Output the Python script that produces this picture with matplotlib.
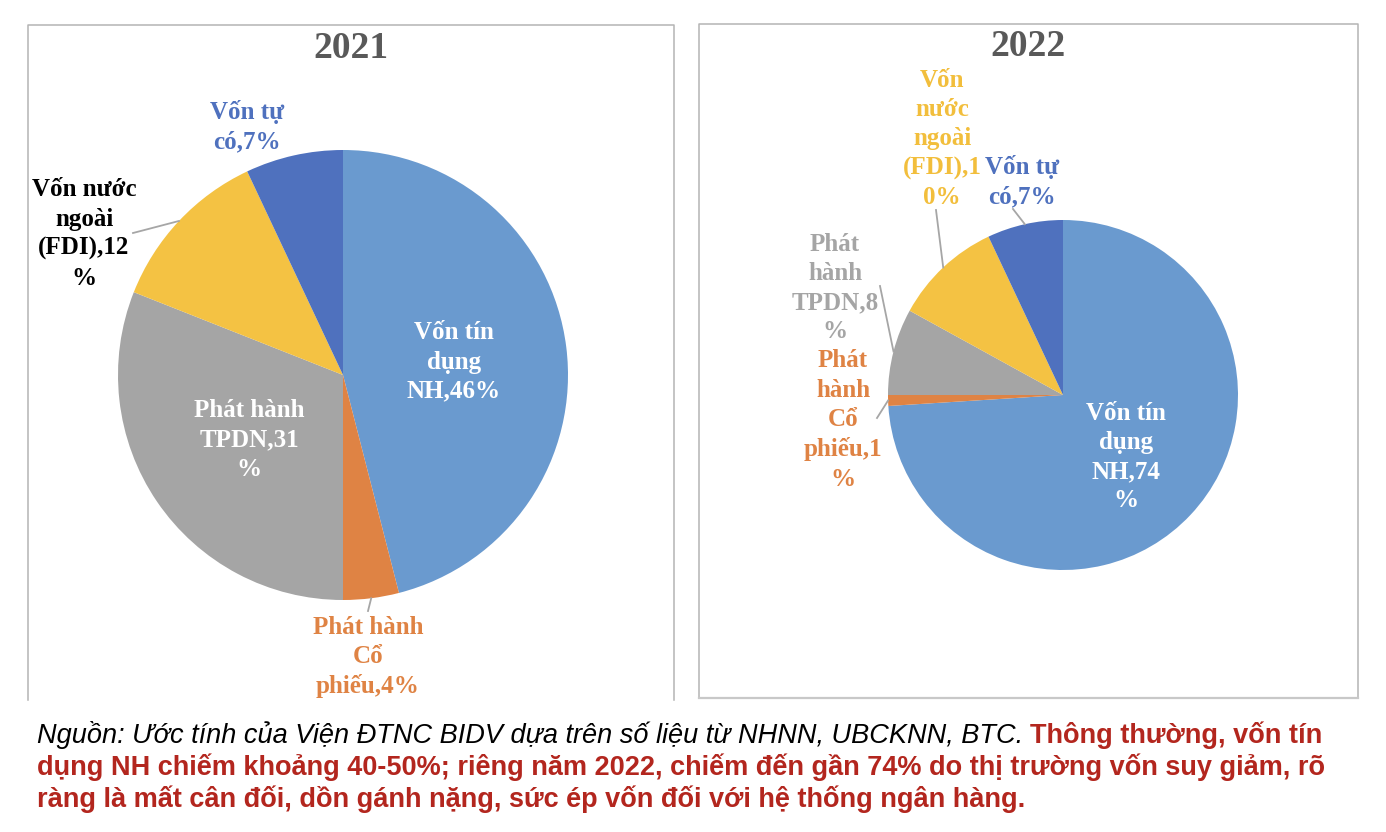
import numpy as np
import matplotlib
matplotlib.use("Agg")
import matplotlib.pyplot as plt

W, H = 1386, 832

# ── data ───────────────────────────────────────────────────────────────────
categories = ["Vốn tín dụng NH", "Phát hành Cổ phiếu", "Phát hành TPDN",
              "Vốn nước ngoài (FDI)", "Vốn tự có"]
values_2021 = [46, 4, 31, 12, 7]
values_2022 = [74, 1, 8, 10, 7]
labels_2021 = ["Vốn tín\ndụng\nNH,46%", "Phát hành\nCổ\nphiếu,4%", "Phát hành\nTPDN,31\n%",
               "Vốn nước\nngoài\n(FDI),12\n%", "Vốn tự\ncó,7%"]
labels_2022 = ["Vốn tín\ndụng\nNH,74\n%", "Phát\nhành\nCổ\nphiếu,1\n%", "Phát\nhành\nTPDN,8\n%",
               "Vốn\nnước\nngoài\n(FDI),1\n0%", "Vốn tự\ncó,7%"]

COLORS = ["#6A9ACF", "#DF8344", "#A5A5A5", "#F4C243", "#4F71BE"]
SERIF = "Liberation Serif"
SANS = "Liberation Sans"

# ── layout (pixels from top-left) ──────────────────────────────────────────
panels = [
    dict(year="2021", vals=values_2021, labs=labels_2021, center=(343, 375), r=225,
         title_xy=(351, 48), box=(28, 25, 674, 700), bottom=False,
         lab_xy=[(454, 362), (368, 657), (249, 440), (84, 234), (247, 127)],
         lab_col=["white", COLORS[1], "white", "black", COLORS[4]],
         leader={1: (368, 611), 3: (133, 233)}),
    dict(year="2022", vals=values_2022, labs=labels_2022, center=(1063, 395), r=175,
         title_xy=(1028, 46), box=(699, 24, 1358, 698), bottom=True,
         lab_xy=[(1126, 457), (843, 420), (835, 288), (942, 139), (1022, 182)],
         lab_col=["white", COLORS[1], COLORS[2], "#F2BE3C", COLORS[4]],
         leader={1: (877, 418), 2: (880, 286), 3: (936, 210), 4: (1013, 209)}),
]

def fy(y):
    return H - y

fig = plt.figure(figsize=(W / 100, H / 100), dpi=100)
ax = fig.add_axes([0, 0, 1, 1])

for p in panels:
    cx, cy = p["center"]
    wedges, _ = ax.pie(p["vals"], colors=COLORS, startangle=90, counterclock=False,
                       center=(cx, fy(cy)), radius=p["r"], wedgeprops=dict(linewidth=0))

    # panel border
    x0, y0, x1, y1 = p["box"]
    ax.plot([x0, x0, x1, x1], [fy(y1), fy(y0), fy(y0), fy(y1)], color="#B4B4B4", lw=1.1)
    if p["bottom"]:
        ax.plot([x0, x1], [fy(y1), fy(y1)], color="#C8C8C8", lw=1.6)

    ax.text(p["title_xy"][0], fy(p["title_xy"][1]), p["year"], ha="center", va="center",
            fontsize=27, fontweight="bold", family=SERIF, color="#595959")

    for i, (lab, (lx, ly), col) in enumerate(zip(p["labs"], p["lab_xy"], p["lab_col"])):
        ax.text(lx, fy(ly), lab, ha="center", va="center", fontsize=18,
                fontweight="bold", family=SERIF, color=col, linespacing=1.35)

    # leader lines: from label to the edge of the wedge at its mid angle
    for i, (lx, ly) in p["leader"].items():
        w = wedges[i]
        mid = np.deg2rad((w.theta1 + w.theta2) / 2)
        ex = cx + p["r"] * np.cos(mid)
        ey = fy(cy) + p["r"] * np.sin(mid)
        ax.plot([lx, ex], [fy(ly), ey], color="#A6A6A6", lw=1.3)

ax.set_xlim(0, W)
ax.set_ylim(0, H)
ax.set_aspect("auto")
ax.axis("off")

# ── caption ────────────────────────────────────────────────────────────────
RED = "#B3261E"
CAP = 19.5
src = "Nguồn: Ước tính của Viện ĐTNC BIDV dựa trên số liệu từ NHNN, UBCKNN, BTC."
t0 = ax.text(37, fy(743), src, ha="left", va="baseline", fontsize=CAP,
             style="italic", family=SANS, color="black")
fig.canvas.draw()
bb = t0.get_window_extent(renderer=fig.canvas.get_renderer())
x_end = ax.transData.inverted().transform((bb.x1, bb.y0))[0]
ax.text(x_end + 7, fy(743), "Thông thường, vốn tín", ha="left", va="baseline",
        fontsize=CAP, fontweight="bold", family=SANS, color=RED)
ax.text(37, fy(775), "dụng NH chiếm khoảng 40-50%; riêng năm 2022, chiếm đến gần 74% do thị trường vốn suy giảm, rõ",
        ha="left", va="baseline", fontsize=CAP, fontweight="bold", family=SANS, color=RED)
ax.text(37, fy(807), "ràng là mất cân đối, dồn gánh nặng, sức ép vốn đối với hệ thống ngân hàng.",
        ha="left", va="baseline", fontsize=CAP, fontweight="bold", family=SANS, color=RED)

fig.savefig("out.png", dpi=100, facecolor="white")
